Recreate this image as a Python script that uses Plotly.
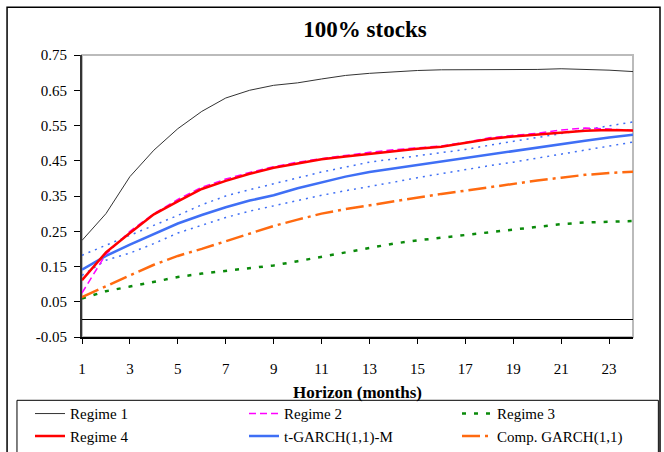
import plotly.graph_objects as go

months = list(range(1, 25))

regime1 = [0.224, 0.300, 0.405, 0.480, 0.541, 0.590, 0.628, 0.650, 0.664, 0.671, 0.682, 0.692,
           0.698, 0.703, 0.706, 0.708, 0.708, 0.708, 0.708, 0.709, 0.711, 0.710, 0.707, 0.703]
regime2 = [0.075, 0.185, 0.250, 0.300, 0.340, 0.375, 0.398, 0.417, 0.433, 0.446, 0.456, 0.466,
           0.474, 0.481, 0.487, 0.492, 0.502, 0.515, 0.522, 0.528, 0.537, 0.543, 0.540, 0.536]
regime3 = [0.059, 0.080, 0.093, 0.106, 0.120, 0.130, 0.138, 0.145, 0.153, 0.165, 0.178, 0.190,
           0.204, 0.215, 0.224, 0.232, 0.240, 0.248, 0.256, 0.264, 0.270, 0.275, 0.277, 0.279]
regime4 = [0.111, 0.190, 0.245, 0.298, 0.335, 0.370, 0.393, 0.413, 0.430, 0.443, 0.454, 0.462,
           0.470, 0.477, 0.484, 0.490, 0.500, 0.512, 0.519, 0.525, 0.531, 0.535, 0.537, 0.536]
tgarch = [0.141, 0.180, 0.212, 0.242, 0.272, 0.296, 0.318, 0.337, 0.352, 0.372, 0.389, 0.405,
          0.418, 0.428, 0.438, 0.449, 0.458, 0.468, 0.478, 0.488, 0.498, 0.507, 0.516, 0.524]
tgarch_upper = [0.182, 0.210, 0.238, 0.265, 0.295, 0.325, 0.350, 0.368, 0.385, 0.403, 0.418, 0.432,
                0.446, 0.455, 0.464, 0.473, 0.482, 0.494, 0.505, 0.517, 0.528, 0.539, 0.550, 0.560]
tgarch_lower = [0.125, 0.168, 0.188, 0.215, 0.245, 0.268, 0.289, 0.307, 0.322, 0.338, 0.352, 0.365,
                0.376, 0.389, 0.402, 0.414, 0.426, 0.436, 0.446, 0.457, 0.468, 0.480, 0.492, 0.503]
compgarch = [0.063, 0.095, 0.125, 0.155, 0.180, 0.200, 0.222, 0.243, 0.265, 0.283, 0.300, 0.313,
             0.324, 0.334, 0.345, 0.356, 0.365, 0.375, 0.386, 0.394, 0.402, 0.410, 0.415, 0.419]

x_ticks = list(range(1, 24, 2))
y_ticks = [-0.05, 0.05, 0.15, 0.25, 0.35, 0.45, 0.55, 0.65, 0.75]
y_labels = ["-0.05", "0.05", "0.15", "0.25", "0.35", "0.45", "0.55", "0.65", "0.75"]

FONT = "Liberation Serif"

fig = go.Figure()

def add(y, name, color, width, dash, rank, legend="legend", show=True):
    fig.add_trace(go.Scatter(
        x=months, y=y, name=name, mode="lines",
        line=dict(color=color, width=width, dash=dash),
        showlegend=show, legend=legend, legendrank=rank, legendgroup=name,
        hoverinfo="skip"))

add(regime1, "Regime 1", "#333333", 1, "solid", 1, "legend")
add(regime3, "Regime 3", "#0a8a0a", 2.5, "4px,8px", 1, "legend3")
add(compgarch, "Comp. GARCH(1,1)", "#FF6A10", 2.5, "18px,5px,3px,5px", 2, "legend3")
add(tgarch_upper, "upper", "#3F6FF5", 1.5, "2px,5px", 10, show=False)
add(tgarch_lower, "lower", "#3F6FF5", 1.5, "2px,5px", 11, show=False)
add(tgarch, "t-GARCH(1,1)-M", "#3F6FF5", 2.5, "solid", 2, "legend2")
add(regime2, "Regime 2", "#FF00FF", 1.5, "7px,4px", 1, "legend2")
add(regime4, "Regime 4", "#FF0000", 2.5, "solid", 2, "legend")

# plot area frame (light gray top/right), outer chart frame, legend box
fig.add_shape(type="rect", xref="paper", yref="paper", x0=0, x1=1, y0=0, y1=1,
              line=dict(color="#BBBBBB", width=2), layer="below")
fig.add_shape(type="rect", xref="paper", yref="paper", x0=-0.136, x1=1.049, y0=-0.45, y1=1.169,
              line=dict(color="#000000", width=1.5))
fig.add_shape(type="rect", xref="paper", yref="paper", x0=-0.118, x1=1.046, y0=-0.45, y1=-0.2245,
              line=dict(color="#000000", width=1))

def leg(xpx):
    return dict(orientation="v", x=(xpx - 82) / 551, xanchor="left",
                y=(336.7 - 397) / 282, yanchor="top",
                bgcolor="rgba(0,0,0,0)", borderwidth=0,
                font=dict(family=FONT, size=15, color="#000000"),
                traceorder="normal", tracegroupgap=8, itemwidth=30)

fig.update_layout(
    width=664, height=452,
    margin=dict(l=82, r=31, t=55, b=115, autoexpand=False),
    paper_bgcolor="white", plot_bgcolor="white",
    font=dict(family=FONT, color="#000000", size=15),
    title=dict(text="<b>100% stocks</b>", x=365 / 664, xanchor="center", y=0.935, yanchor="middle",
               font=dict(family=FONT, size=23, color="#000000")),
    showlegend=True,
    legend=leg(30),
    legend2=leg(244),
    legend3=leg(457),
    xaxis=dict(range=[1, 24], tickmode="array", tickvals=x_ticks,
               ticktext=[str(v) for v in x_ticks],
               showgrid=False, zeroline=False, showline=True, linecolor="#000000", linewidth=1.5,
               ticks="outside", ticklen=5, tickcolor="#000000", tickwidth=1,
               ticklabelstandoff=12,
               tickfont=dict(family=FONT, size=15),
               title=dict(text="<b>Horizon (months)</b>", standoff=10,
                          font=dict(family=FONT, size=17))),
    yaxis=dict(range=[-0.05, 0.75], tickmode="array", tickvals=y_ticks, ticktext=y_labels,
               showgrid=False, zeroline=True, zerolinecolor="#000000", zerolinewidth=1,
               showline=True, linecolor="#333333", linewidth=2,
               ticks="outside", ticklen=6, tickcolor="#000000", tickwidth=1,
               ticklabelstandoff=4,
               tickfont=dict(family=FONT, size=15)),
)

fig.write_html("out.html", config={"displayModeBar": False},
               post_script="document.body.style.margin='0';")
